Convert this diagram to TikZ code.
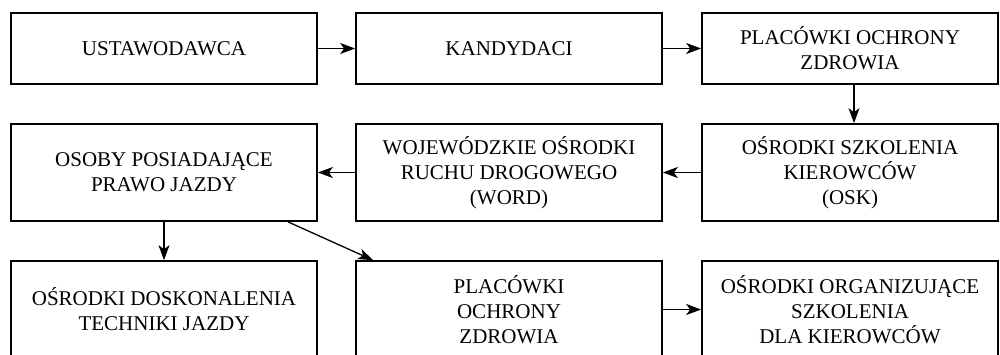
\documentclass[tikz,border=0pt]{standalone}
\usepackage{fontspec}
\setmainfont{Liberation Serif}
\usetikzlibrary{arrows.meta}
\begin{document}
\begin{tikzpicture}[x=0.5pt,y=-0.5pt,
  box/.style={draw,line width=0.85pt,rectangle,inner sep=0pt,align=center,
    minimum width=153pt,font=\fontsize{10.5}{12.5}\selectfont},
  top/.style={box,minimum height=35.5pt},
  low/.style={box,minimum height=48.5pt},
  arr/.style={line width=0.65pt,-{Stealth[length=7.5pt,width=5.5pt,inset=2pt]}}]
\useasboundingbox (0,0) rectangle (1000,354);
\clip (0,0) rectangle (1000,354);
\fill[white] (0,0) rectangle (1000,354);
% row 1
\node[top] (b1) at (164,48.5) {USTAWODAWCA};
\node[top] (b2) at (509,48.5) {KANDYDACI};
\node[top,minimum width=148pt] (b3) at (850,48.5) {PLACÓWKI OCHRONY\\ZDROWIA};
% row 2
\node[low] (b4) at (164,172.5) {OSOBY POSIADAJĄCE\\PRAWO JAZDY};
\node[low] (b5) at (509,172.5) {WOJEWÓDZKIE OŚRODKI\\RUCHU DROGOWEGO\\(WORD)};
\node[low,minimum width=148pt] (b6) at (850,172.5) {OŚRODKI SZKOLENIA\\KIEROWCÓW\\(OSK)};
% row 3
\node[low] (b7) at (164,309.5) {OŚRODKI DOSKONALENIA\\TECHNIKI JAZDY};
\node[low] (b8) at (509,309.5) {PLACÓWKI\\OCHRONY\\ZDROWIA};
\node[low,minimum width=148pt] (b9) at (850,309.5) {OŚRODKI ORGANIZUJĄCE\\SZKOLENIA\\DLA KIEROWCÓW};
% helper coordinates
\coordinate (ax) at (854,0);
\coordinate (d1) at (288,0);
\coordinate (d2) at (373,0);
% connectors
\draw[arr] (b1) -- (b2);
\draw[arr] (b2) -- (b3);
\draw[arr] (b3.south -| ax) -- (b6.north -| ax);
\draw[arr] (b6) -- (b5);
\draw[arr] (b5) -- (b4);
\draw[arr] (b4) -- (b7);
\draw[arr] (b4.south -| d1) -- (b8.north -| d2);
\draw[arr] (b8) -- (b9);
\end{tikzpicture}
\end{document}
